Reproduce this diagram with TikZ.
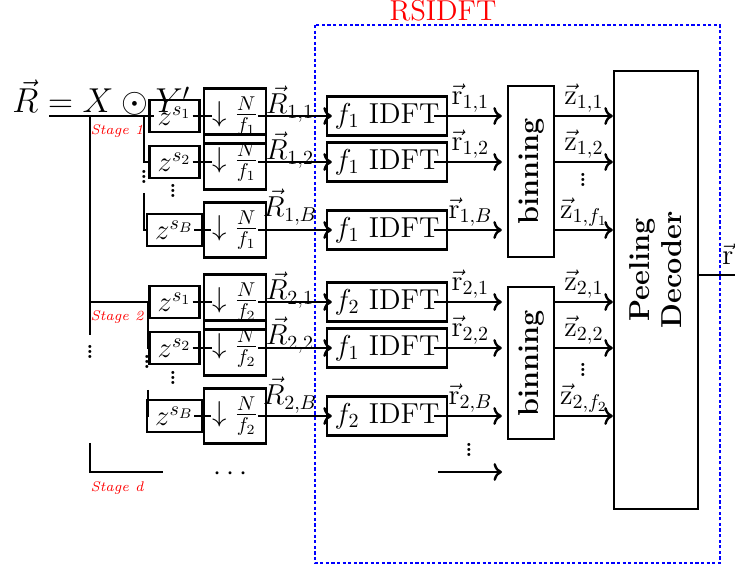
\documentclass[tikz,border=0pt]{standalone}
\usepackage{amsmath,amssymb}
\usepackage{graphicx}
\usetikzlibrary{arrows.meta,calc}
\definecolor{rsRed}{HTML}{FF0000}
\definecolor{rsBlue}{HTML}{0000FF}
\newcommand{\rsvdots}{\scalebox{0.62}{$\vdots$}}

\begin{document}
\begin{tikzpicture}[x=0.5pt,y=-0.5pt,font=\Large,
  wire/.style={line width=1.2pt},
  sig/.style={line width=1.2pt,->},
  box/.style={draw,line width=1.2pt,inner sep=1pt},
  zbox/.style={box,inner xsep=4pt,minimum height=16pt},
  decbox/.style={box,minimum width=31pt,minimum height=27.5pt},
  idftbox/.style={box,minimum width=60pt,minimum height=19.5pt},
  lbl/.style={inner sep=1pt},
  dotsnode/.style={inner sep=0pt,anchor=south,font=\LARGE\bfseries},
  stagelbl/.style={font=\scriptsize\itshape,text=rsRed}]
\useasboundingbox (0,0) rectangle (735,571);

% RSIDFT block
\node[text=rsRed] (title) at (443,11) {RSIDFT};
\draw[rsBlue,line width=0.8pt,dash pattern=on 1.6pt off 1.2pt] (315,25) rectangle (720,563);

\node[anchor=base west,inner sep=0pt,font=\LARGE] (eq) at (12,113) {$\vec{R} = X \odot Y'$};

\node[box,minimum width=23pt,minimum height=85.5pt] (bin1) at (531,171.5) {\rotatebox{90}{\bfseries binning}};
\node[box,minimum width=23pt,minimum height=76pt] (bin2) at (531,363) {\rotatebox{90}{\bfseries binning}};
\node[box,minimum width=42pt,minimum height=219pt] (pd) at (656,290) {};
\node[rotate=90,align=center,font=\Large\bfseries] (pdtext) at (656,270) {Peeling\\[-2pt]Decoder};

% one row per branch
\foreach \k/\sg/\y/\zs/\df/\fa/\rs/\zz/\ly in {
  11/1/116/s_1/f_1/f_1/{1,1}/{1,1}/12,
  12/1/162/s_2/f_1/f_1/{1,2}/{1,2}/12,
  1B/1/230/s_B/f_1/f_1/{1,B}/{1,f_1}/23,
  21/2/302/s_1/f_2/f_2/{2,1}/{2,1}/12,
  22/2/348/s_2/f_2/f_1/{2,2}/{2,2}/13,
  2B/2/416/s_B/f_2/f_2/{2,B}/{2,f_2}/21}{
  \node[zbox] (z\k) at (174.5,\y) {$z^{\zs}$};
  \node[decbox] (d\k) at (235,\y) {$\downarrow\frac{N}{\df}$};
  \node[idftbox] (i\k) at (387,\y) {$\fa$ IDFT};
  \node[lbl] (R\k) at (290,\y-\ly) {$\vec{R}_{\rs}$};
  \draw[wire,shorten <=-4pt,shorten >=-4.5pt] (z\k) -- (d\k);
  \draw[sig,shorten <=-4.5pt,shorten >=-3pt] (d\k) -- (i\k);
  \draw[sig,shorten <=-7pt,shorten >=2.5pt] (i\k.east) -- node[lbl,above,pos=.38] (r\k) {$\vec{\mathrm{r}}_{\rs}$} (i\k.east -| bin\sg.west);
  \draw[sig] (i\k.east -| bin\sg.east) -- node[lbl,above] (zl\k) {$\vec{\mathrm{z}}_{\zz}$} (i\k.east -| pd.west);
}

% stages
\coordinate (src) at (49,116);
\coordinate (bus) at (90,116);
\coordinate (busend) at (90,335);
\coordinate (st2) at (90,302);
\coordinate (stdtop) at (90,443);
\coordinate (stdend) at (163,472);
\coordinate (t1) at (144,116);
\coordinate (t1b) at (144,193);
\coordinate (t2) at (148,302);
\coordinate (t2b) at (148,390);
\draw[wire] (bus) -- (busend);
\draw[wire,shorten >=-3pt] (src) -- (z11);
\draw[wire] (st2) -- (z21);
\draw[wire] (stdtop) |- (stdend);
\draw[wire] (t1) |- (z12);
\draw[wire] (t1b) |- (z1B);
\draw[wire] (t2) |- (z22);
\draw[wire] (t2b) |- (z2B);

\node[stagelbl] (stage1) at (117,131) {Stage 1};
\node[stagelbl] (stage2) at (117,317) {Stage 2};
\node[stagelbl] (staged) at (117,488) {Stage d};

\node[dotsnode] (vs) at (90,359) {\rsvdots};
\node[dotsnode] (v11) at (144,184) {\rsvdots};
\node[dotsnode] (v12) at (173,198) {\rsvdots};
\node[dotsnode] (v21) at (147,369) {\rsvdots};
\node[dotsnode] (v22) at (173,385) {\rsvdots};
\node[dotsnode] (vz1) at (583,187) {\rsvdots};
\node[dotsnode] (vz2) at (583,377) {\rsvdots};
\node[dotsnode] (vb) at (469,457) {\rsvdots};
\node (cd) at (233,474) {$\cdots$};

\coordinate (bs) at (438,472);
\coordinate (be) at (502,472);
\draw[sig] (bs) -- (be);

% output
\coordinate (out) at (745,275);
\draw[sig] (pd.east |- out) -- (out);
\node[lbl,anchor=south west] (outlbl) at (720,267) {$\vec{\mathrm{r}}$};
\end{tikzpicture}
\end{document}
